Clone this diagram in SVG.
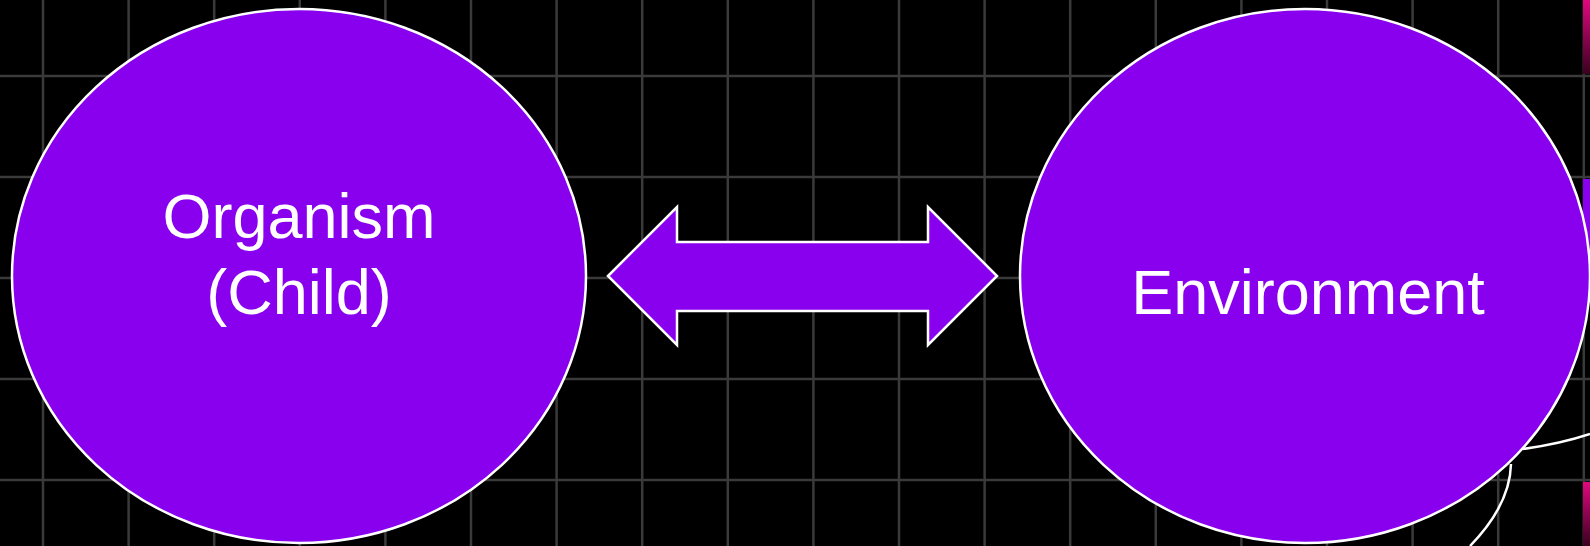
<svg xmlns="http://www.w3.org/2000/svg" width="1590" height="546" viewBox="0 0 1590 546">
<defs>
<style>
.grid line{stroke:#3a3a3a;stroke-width:2.5}
.node{fill:#8800ee;stroke:#ffffff;stroke-width:2.5}
.lbl{font-family:"Liberation Sans",Arial,sans-serif;font-size:63px;fill:#ffffff;text-anchor:middle}
.arc{fill:none;stroke:#ffffff;stroke-width:2.5}
</style>
<linearGradient id="mag" x1="0" y1="0" x2="0" y2="1">
<stop offset="0" stop-color="#e0087e"/>
<stop offset="1" stop-color="#3a0020"/>
</linearGradient>
</defs>
<rect width="1590" height="546" fill="#000000"/>
<g class="grid">
<line x1="43" y1="0" x2="43" y2="546"/>
<line x1="128.6" y1="0" x2="128.6" y2="546"/>
<line x1="214.2" y1="0" x2="214.2" y2="546"/>
<line x1="299.8" y1="0" x2="299.8" y2="546"/>
<line x1="385.4" y1="0" x2="385.4" y2="546"/>
<line x1="471" y1="0" x2="471" y2="546"/>
<line x1="556.6" y1="0" x2="556.6" y2="546"/>
<line x1="642.2" y1="0" x2="642.2" y2="546"/>
<line x1="727.8" y1="0" x2="727.8" y2="546"/>
<line x1="813.4" y1="0" x2="813.4" y2="546"/>
<line x1="899" y1="0" x2="899" y2="546"/>
<line x1="984.6" y1="0" x2="984.6" y2="546"/>
<line x1="1070.2" y1="0" x2="1070.2" y2="546"/>
<line x1="1155.8" y1="0" x2="1155.8" y2="546"/>
<line x1="1241.4" y1="0" x2="1241.4" y2="546"/>
<line x1="1327" y1="0" x2="1327" y2="546"/>
<line x1="1412.6" y1="0" x2="1412.6" y2="546"/>
<line x1="1498.2" y1="0" x2="1498.2" y2="546"/>
<line x1="1583.8" y1="0" x2="1583.8" y2="546"/>
<line x1="0" y1="76" x2="1590" y2="76"/>
<line x1="0" y1="177" x2="1590" y2="177"/>
<line x1="0" y1="278" x2="1590" y2="278"/>
<line x1="0" y1="379" x2="1590" y2="379"/>
<line x1="0" y1="480" x2="1590" y2="480"/>
</g>
<rect x="1583" y="0" width="7" height="74" fill="url(#mag)"/>
<rect x="1583" y="179" width="7" height="120" fill="#8800ee"/>
<rect x="1583" y="482" width="7" height="64" fill="url(#mag)"/>
<path class="arc" d="M1523,449 Q1560,444 1590,434"/>
<path class="arc" d="M1511,464 Q1510,505 1470,546"/>
<g id="organism">
<ellipse class="node" cx="299" cy="276" rx="287" ry="267"/>
<text class="lbl" x="299" y="238">Organism</text>
<text class="lbl" x="299" y="314">(Child)</text>
</g>
<g id="environment">
<ellipse class="node" cx="1305" cy="276" rx="285" ry="267"/>
<text class="lbl" x="1308" y="314">Environment</text>
</g>
<g id="connectors">
<polygon class="node" points="608,276 677,207 677,242 928,242 928,207 997,276 928,345 928,311 677,311 677,345"/>
</g>
</svg>
